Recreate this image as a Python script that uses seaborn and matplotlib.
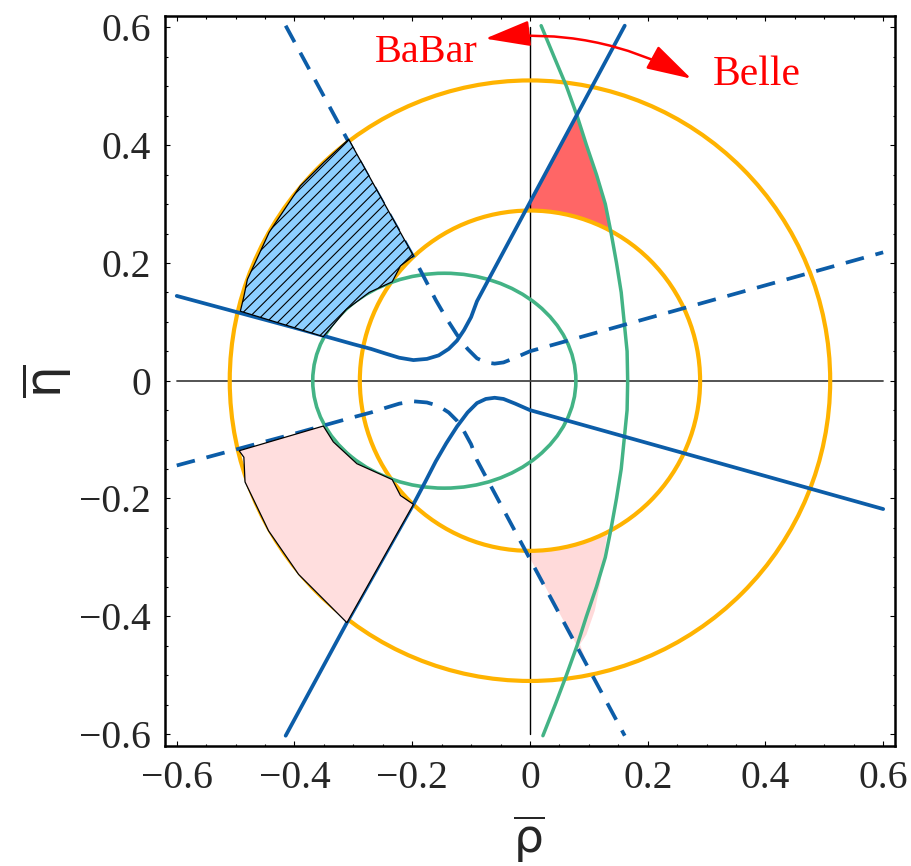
import numpy as np
import matplotlib
matplotlib.use("Agg")
import matplotlib.pyplot as plt
from matplotlib.patches import Circle, Ellipse
from matplotlib.ticker import MultipleLocator
import seaborn as sns

sns.set_style("ticks")
plt.rcParams["font.family"] = ["Liberation Serif", "DejaVu Serif"]
plt.rcParams["mathtext.fontset"] = "dejavusans"
plt.rcParams["hatch.linewidth"] = 0.8

# ---- values ----
tick_vals = [-0.6, -0.4, -0.2, 0, 0.2, 0.4, 0.6]
tick_labels = ["\u22120.6", "\u22120.4", "\u22120.2", "0", "0.2", "0.4", "0.6"]

# circles (orange) centred on the origin
r_outer = 0.51
r_inner = 0.289
# green ellipse
ell_center = (-0.1455, 0.0)
ell_width = 0.447
ell_height = 0.365

# green near-vertical curve
green_y = [-0.603, -0.55, -0.5, -0.45, -0.4, -0.35, -0.3, -0.25, -0.2, -0.15, -0.1, -0.05, 0.0,
           0.05, 0.1, 0.15, 0.2, 0.25, 0.3, 0.35, 0.4, 0.45, 0.5, 0.55, 0.603]
green_x = [0.022, 0.043, 0.062, 0.080, 0.096, 0.113, 0.128, 0.138, 0.147, 0.155, 0.160, 0.165, 0.166,
           0.165, 0.160, 0.155, 0.147, 0.138, 0.128, 0.113, 0.096, 0.080, 0.062, 0.041, 0.019]

# blue solid, upper branch
solid_up_x = [-0.60, -0.50, -0.40, -0.30, -0.27, -0.245, -0.222, -0.198, -0.175, -0.155, -0.138,
              -0.124, -0.112, -0.100, -0.09, 0.0, 0.161]
solid_up_y = [0.144, 0.117, 0.090, 0.062, 0.054, 0.046, 0.039, 0.035, 0.037, 0.043, 0.054,
              0.068, 0.086, 0.108, 0.135, 0.303, 0.603]
# blue solid, lower branch
solid_lo_x = [-0.415, -0.311, -0.198, -0.178, -0.160, -0.142, -0.124, -0.106, -0.090, -0.075,
              -0.060, -0.045, -0.025, 0.0, 0.60]
solid_lo_y = [-0.603, -0.411, -0.210, -0.172, -0.137, -0.106, -0.078, -0.054, -0.038, -0.031,
              -0.029, -0.031, -0.039, -0.050, -0.218]
# blue dashed, upper branch
dash_up_x = [-0.415, -0.311, -0.198, -0.178, -0.160, -0.142, -0.124, -0.106, -0.090, -0.075,
             -0.060, -0.045, -0.025, 0.0, 0.60]
dash_up_y = [0.603, 0.411, 0.210, 0.172, 0.137, 0.106, 0.078, 0.054, 0.038, 0.031,
             0.029, 0.031, 0.039, 0.050, 0.218]
# blue dashed, lower branch
dash_lo_x = [-0.60, -0.50, -0.40, -0.30, -0.27, -0.245, -0.222, -0.198, -0.175, -0.155, -0.138,
             -0.124, -0.112, -0.100, -0.09, 0.0, 0.161]
dash_lo_y = [-0.144, -0.117, -0.090, -0.062, -0.054, -0.046, -0.039, -0.035, -0.037, -0.043, -0.054,
             -0.068, -0.086, -0.108, -0.135, -0.303, -0.603]

# shaded regions
red_x = [-0.005, 0.079, 0.096, 0.113, 0.128, 0.136, 0.100, 0.050, -0.005]
red_y = [0.292, 0.450, 0.400, 0.350, 0.300, 0.256, 0.272, 0.286, 0.292]

pink_r_x = [-0.005, 0.050, 0.100, 0.132, 0.127, 0.119, 0.110, 0.096, 0.085, 0.099]
pink_r_y = [-0.292, -0.286, -0.272, -0.255, -0.289, -0.346, -0.391, -0.431, -0.448, -0.486]

hatch_x = [-0.308, -0.350, -0.390, -0.443, -0.480, -0.486, -0.492, -0.351, -0.312, -0.273, -0.234, -0.220, -0.198]
hatch_y = [0.410, 0.371, 0.331, 0.252, 0.172, 0.143, 0.118, 0.075, 0.121, 0.150, 0.168, 0.195, 0.212]

pink_l_x = [-0.494, -0.486, -0.484, -0.444, -0.393, -0.311, -0.198, -0.220, -0.234, -0.294, -0.334, -0.351]
pink_l_y = [-0.119, -0.130, -0.172, -0.255, -0.329, -0.411, -0.210, -0.195, -0.168, -0.141, -0.104, -0.077]

axis_span = [-0.6, 0.6]
zero_pair = [0, 0]

# ---- colours ----
blue = "#0C5DA8"
green = "#43B385"
orange = "#FFB300"

fig = plt.figure(figsize=(9.12, 8.66), dpi=100)
ax = fig.add_axes([0.1809, 0.1389, 0.8004, 0.8430])

# fills under the lines
ax.fill(red_x, red_y, color="#FF6666", lw=0, zorder=1)
ax.fill(pink_r_x, pink_r_y, color="#FFDADA", lw=0, zorder=1)

# zero axes
sns.lineplot(x=zero_pair, y=axis_span, sort=False, estimator=None, color="black",
             linewidth=1.0, ax=ax, zorder=1.5)
sns.lineplot(x=axis_span, y=zero_pair, sort=False, estimator=None, color="#454545",
             linewidth=1.3, ax=ax, zorder=1.5)

ax.add_patch(Circle((0, 0), r_outer, fill=False, ec=orange, lw=3.0, zorder=2))
ax.add_patch(Circle((0, 0), r_inner, fill=False, ec=orange, lw=3.0, zorder=2))
ax.add_patch(Ellipse(ell_center, ell_width, ell_height, fill=False, ec=green, lw=2.6, zorder=2))

sns.lineplot(x=green_x, y=green_y, sort=False, estimator=None, color=green, linewidth=2.5,
             ax=ax, zorder=2)

for xs, ys, dashed in [(solid_up_x, solid_up_y, False), (solid_lo_x, solid_lo_y, False),
                       (dash_up_x, dash_up_y, True), (dash_lo_x, dash_lo_y, True)]:
    sns.lineplot(x=xs, y=ys, sort=False, estimator=None, color=blue, linewidth=2.7, ax=ax, zorder=2)
    ln = ax.lines[-1]
    ln.set_solid_capstyle("round")
    ln.set_solid_joinstyle("round")
    if dashed:
        ln.set_dashes((5.0, 3.2))

# outlined regions over the lines
ax.fill(hatch_x, hatch_y, facecolor="#8DCFFF", edgecolor="black", lw=0.9, hatch="///", zorder=3)
ax.fill(pink_l_x, pink_l_y, facecolor="#FFDEDE", edgecolor="black", lw=0.9, zorder=3)

# BaBar / Belle annotation
ax.annotate("", xy=(0.274, 0.513), xytext=(-0.076, 0.581),
            arrowprops=dict(arrowstyle="<|-|>,head_length=1.4,head_width=0.4",
                            connectionstyle="arc3,rad=-0.16", color="red", lw=1.8,
                            shrinkA=0, shrinkB=0, mutation_scale=20), zorder=4)
ax.text(-0.176, 0.541, "BaBar", color="red", fontsize=29, ha="center", va="baseline", zorder=4)
ax.text(0.386, 0.502, "Belle", color="red", fontsize=30, ha="center", va="baseline", zorder=4)

ax.set_xlim(-0.62, 0.62)
ax.set_ylim(-0.62, 0.62)
ax.set_xticks(tick_vals)
ax.set_xticklabels(tick_labels)
ax.set_yticks(tick_vals)
ax.set_yticklabels(tick_labels)
ax.xaxis.set_minor_locator(MultipleLocator(0.05))
ax.yaxis.set_minor_locator(MultipleLocator(0.05))
ax.tick_params(which="both", direction="in", top=True, right=True, width=0.8, color="black")
ax.tick_params(which="major", length=3.3, labelsize=28.5, pad=10)
ax.tick_params(which="minor", length=1.8)
for sp in ax.spines.values():
    sp.set_linewidth(1.8)
    sp.set_color("black")

ax.set_xlabel(r"$\overline{\mathrm{\rho}}$", fontsize=34, va="center")
ax.xaxis.set_label_coords(0.4993, -0.1286)
ax.set_ylabel(r"$\overline{\mathrm{\eta}}$", fontsize=36, va="center")
ax.yaxis.set_label_coords(-0.163, 0.5)

fig.savefig("out.png", dpi=100)
